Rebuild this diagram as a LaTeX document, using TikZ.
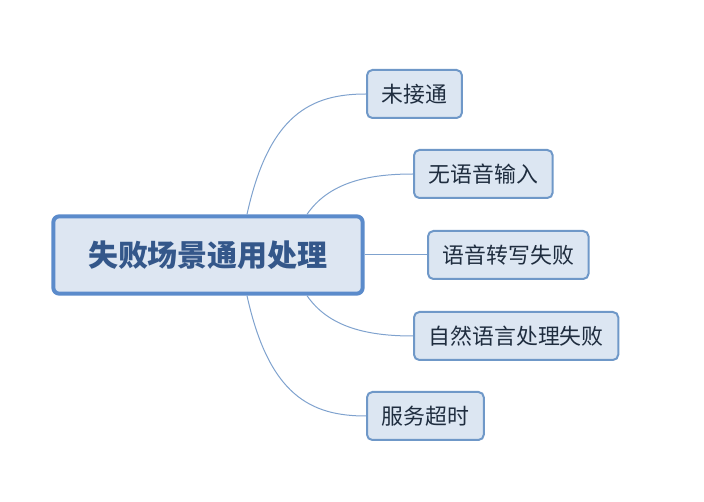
\documentclass[tikz,border=0pt]{standalone}
\usepackage{fontspec}
\setmainfont{Noto Sans CJK SC}
\usetikzlibrary{positioning,calc}
\definecolor{rootblue}{HTML}{5B8BCB}
\definecolor{rootfill}{HTML}{DDE6F2}
\definecolor{roottext}{HTML}{34578A}
\definecolor{leafblue}{HTML}{6F98C8}
\definecolor{leaffill}{HTML}{DCE6F2}
\definecolor{leaftext}{HTML}{1F2D3F}
\definecolor{linkblue}{HTML}{7FA2CE}
\begin{document}
\begin{tikzpicture}[x=0.75pt,y=-0.75pt,
root/.style={draw=rootblue,line width=3pt,fill=rootfill,rounded corners=4.5pt,
minimum width=232pt,minimum height=58pt,text=roottext,font=\fontsize{22.5}{26}\selectfont\bfseries},
leaf/.style={draw=leafblue,line width=1.5pt,fill=leaffill,rounded corners=4pt,
inner xsep=11pt,minimum height=36pt,text=leaftext,font=\fontsize{16.4}{19}\selectfont,anchor=west},
link/.style={draw=linkblue,line width=0.75pt}]
\useasboundingbox (0,0) rectangle (704,502);
\node[root] (scene) at (208,255) {失败场景通用处理};
\node[leaf] (noanswer) at (366,94) {未接通};
\node[leaf] (novoice) at (413,174) {无语音输入};
\node[leaf] (asrfail) at (427,255) {语音转写失败};
\node[leaf] (nlpfail) at (413,336) {自然语言处理失败};
\node[leaf] (timeout) at (366,416) {服务超时};
\draw[link] ($(scene.north)+(39,0)$) .. controls +(22,-100) and +(-55,0) .. (noanswer.west);
\draw[link] ($(scene.north)+(99,0)$) .. controls +(22,-32) and +(-45,0) .. (novoice.west);
\draw[link] (scene.east) -- (asrfail.west);
\draw[link] ($(scene.south)+(99,0)$) .. controls +(22,32) and +(-45,0) .. (nlpfail.west);
\draw[link] ($(scene.south)+(39,0)$) .. controls +(22,100) and +(-55,0) .. (timeout.west);
\end{tikzpicture}
\end{document}
